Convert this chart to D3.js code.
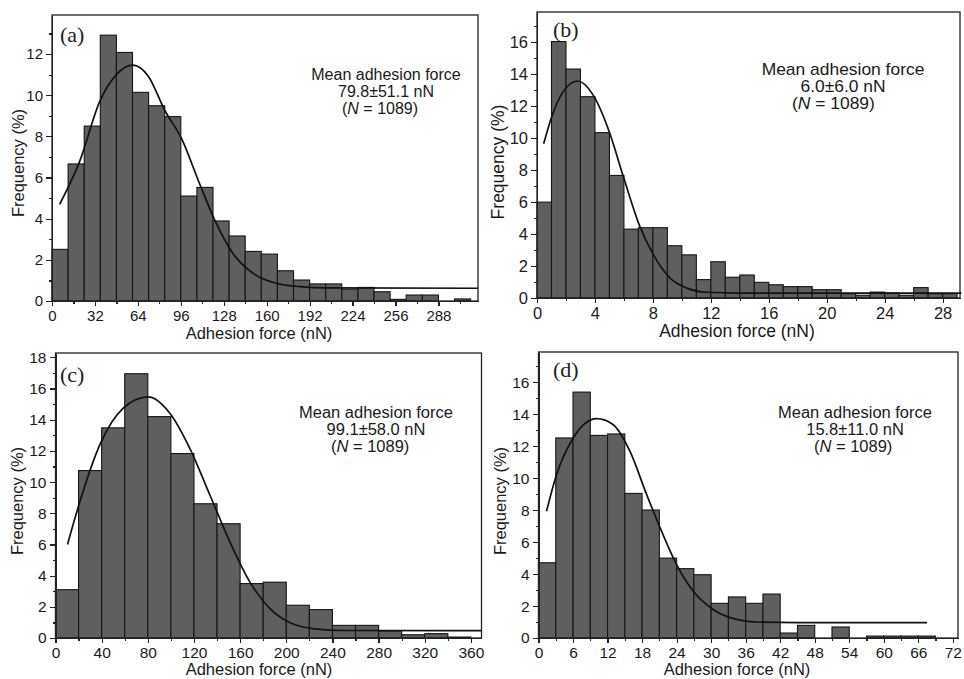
<!DOCTYPE html>
<html>
<head>
<meta charset="utf-8">
<script src="https://cdn.jsdelivr.net/npm/d3@7"></script>
<style>
  body { margin: 0; background: #fff; }
  svg { display: block; font-family: "Liberation Sans", Arial, sans-serif; }
  .axis path, .axis line { stroke: #222; stroke-width: 1.2; shape-rendering: crispEdges; }
  .axis text { fill: #1a1a1a; font-family: "Liberation Sans", Arial, sans-serif; }
</style>
</head>
<body>
<svg id="chart" width="964" height="679"></svg>
<script>
// bar heights (%), one value per bin starting at 0
var freqA = [2.51, 6.66, 8.5, 12.92, 12.08, 10.14, 9.49, 8.96, 5.1, 5.52, 3.89, 3.16, 2.41, 2.28, 1.47, 1.02, 0.83, 0.83, 0.58, 0.66, 0.45, 0.08, 0.29, 0.29, 0, 0.1];
var freqB = [6.0, 16.05, 14.33, 12.6, 10.35, 7.67, 4.31, 4.4, 4.4, 3.27, 2.7, 1.15, 2.27, 1.3, 1.44, 0.98, 0.83, 0.71, 0.71, 0.52, 0.52, 0.27, 0.17, 0.37, 0.31, 0.17, 0.65, 0.27, 0.27];
var freqC = [3.1, 10.74, 13.48, 16.95, 14.2, 11.83, 8.61, 7.33, 3.49, 3.58, 2.1, 1.82, 0.81, 0.81, 0.45, 0.21, 0.28, 0.06];
var freqD = [4.71, 12.52, 15.39, 12.68, 12.77, 9.05, 8.01, 5.0, 4.34, 3.96, 2.17, 2.57, 2.17, 2.75, 0.31, 0.79, 0, 0.69, 0, 0.12, 0.12, 0.12, 0.12];

var binWidthA = 12;
var binWidthB = 1;
var binWidthC = 20;
var binWidthD = 3;

// fitted curves, points [force, %]
var fitA = [[5.7, 4.7], [20.7, 6.8], [35.6, 9.7], [48, 11.0], [60.4, 11.46], [72, 10.9], [84, 9.27], [96.5, 7.9], [110, 5.7], [121.3, 3.93], [135, 2.3], [150, 1.34], [167, 0.86], [184.7, 0.7], [205, 0.64], [317.5, 0.62]];
var fitB = [[0.46, 9.65], [1.0, 11.3], [1.8, 12.9], [2.8, 13.58], [3.88, 12.7], [5.03, 10.3], [5.96, 7.6], [7.1, 4.48], [8.04, 2.7], [9.19, 1.25], [10.35, 0.62], [11.73, 0.36], [14, 0.31], [29.3, 0.31]];
var fitC = [[10.4, 6.0], [21.1, 8.74], [38.4, 12.39], [58.7, 14.74], [80.3, 15.47], [99.1, 14.42], [116.4, 12.17], [133.8, 9.17], [151.1, 6.17], [168.4, 3.6], [185.8, 1.89], [203, 0.99], [223, 0.6], [250, 0.48], [369.2, 0.47]];
var fitD = [[1.39, 7.93], [3.13, 10.22], [6.03, 12.52], [10.1, 13.73], [13.0, 13.35], [15.9, 11.68], [18.8, 8.97], [21.4, 6.67], [24.0, 4.59], [26.9, 2.92], [30.4, 1.77], [33.9, 1.21], [37.9, 1.0], [45, 0.96], [67.5, 0.96]];

// tick labels
var xTicksA = [0, 32, 64, 96, 128, 160, 192, 224, 256, 288];
var xTicksB = [0, 4, 8, 12, 16, 20, 24, 28];
var xTicksC = [0, 40, 80, 120, 160, 200, 240, 280, 320, 360];
var xTicksD = [0, 6, 12, 18, 24, 30, 36, 42, 48, 54, 60, 66, 72];
var yTicksA = [0, 2, 4, 6, 8, 10, 12];
var yTicksB = [0, 2, 4, 6, 8, 10, 12, 14, 16];
var yTicksC = [0, 2, 4, 6, 8, 10, 12, 14, 16, 18];
var yTicksD = [0, 2, 4, 6, 8, 10, 12, 14, 16];

var panelLabels = ['(a)', '(b)', '(c)', '(d)'];
var meanTexts = ['79.8\u00b151.1 nN', '6.0\u00b16.0 nN', '99.1\u00b158.0 nN', '15.8\u00b111.0 nN'];
var sampleSize = 1089;

var svg = d3.select('#chart');

// where each panel sits on the page (panel b was printed a little wider)
var panels = [
  { freq: freqA, bin: binWidthA, fit: fitA, xTicks: xTicksA, yTicks: yTicksA, xMinor: 16, xMax: 317.5, yMax: 13.9,
    left: 52, top: 15, right: 478, bottom: 301, tickFont: 15, titleFont: 16.5,
    labelX: 60, labelY: 42, annoX: 386, annoY: 80, nX: 342, annoSize: 16, stretch: 1, yTitleX: 18, yTitleY: 163, xTitleX: 259, xTitleY: 339 },
  { freq: freqB, bin: binWidthB, fit: fitB, xTicks: xTicksB, yTicks: yTicksB, xMinor: 2, xMax: 29.2, yMax: 17.9,
    left: 537, top: 12, right: 960, bottom: 298, tickFont: 16.5, titleFont: 17.5,
    labelX: 553, labelY: 37, annoX: 843, annoY: 75, nX: 792, annoSize: 16, stretch: 1.09, yTitleX: 498, yTitleY: 162, xTitleX: 737, xTitleY: 337 },
  { freq: freqC, bin: binWidthC, fit: fitC, xTicks: xTicksC, yTicks: yTicksC, xMinor: 20, xMax: 369.2, yMax: 18.28,
    left: 55.5, top: 353, right: 481.5, bottom: 638, tickFont: 15.5, titleFont: 16.5,
    labelX: 60, labelY: 382, annoX: 376, annoY: 418, nX: 331, annoSize: 16, stretch: 1.03, yTitleX: 17, yTitleY: 501, xTitleX: 259, xTitleY: 675 },
  { freq: freqD, bin: binWidthD, fit: fitD, xTicks: xTicksD, yTicks: yTicksD, xMinor: 3, xMax: 72.9, yMax: 17.9,
    left: 538.5, top: 352, right: 958, bottom: 638, tickFont: 15.5, titleFont: 16.5,
    labelX: 553, labelY: 377, annoX: 855, annoY: 418, nX: 814, annoSize: 16, stretch: 1.03, yTitleX: 500, yTitleY: 501, xTitleX: 737, xTitleY: 675 }
];

panels.forEach(function(p, i) {
  drawPanel(p, i);
});

function drawPanel(p, i) {
  var xScale = d3.scaleLinear().domain([0, p.xMax]).range([p.left, p.right]);
  var yScale = d3.scaleLinear().domain([0, p.yMax]).range([p.bottom, p.top]);
  var g = svg.append('g');

  var bins = p.freq.map(function(v, k) {
    return { x0: k * p.bin, x1: (k + 1) * p.bin, value: v };
  }).filter(function(d) {
    return d.value > 0;
  });

  g.selectAll('rect.bar')
    .data(bins)
    .enter().append('rect')
      .attr('class', 'bar')
      .attr('x', function(d) { return xScale(d.x0); })
      .attr('y', function(d) { return yScale(d.value); })
      .attr('width', function(d) { return xScale(d.x1) - xScale(d.x0); })
      .attr('height', function(d) { return yScale(0) - yScale(d.value); })
      .attr('fill', '#5f5f5f')
      .attr('stroke', '#151515')
      .attr('stroke-width', 1.1);

  // frame
  g.append('rect')
    .attr('x', p.left)
    .attr('y', p.top)
    .attr('width', p.right - p.left)
    .attr('height', p.bottom - p.top)
    .attr('fill', 'none')
    .attr('stroke', '#222')
    .attr('stroke-width', 1.3);

  var lastTick = p.xTicks[p.xTicks.length - 1];
  var xMinorTicks = d3.range(0, Math.min(p.xMax, lastTick + p.xMinor) + 0.001, p.xMinor);
  var yMinorTicks = d3.range(0, p.yMax, 1);

  g.append('g')
    .attr('class', 'axis')
    .attr('transform', 'translate(0,' + p.bottom + ')')
    .call(d3.axisBottom(xScale).tickValues(xMinorTicks).tickSize(3).tickFormat(''))
    .call(function(a) { a.select('.domain').remove(); });
  g.append('g')
    .attr('class', 'axis')
    .attr('transform', 'translate(0,' + p.bottom + ')')
    .call(d3.axisBottom(xScale).tickValues(p.xTicks).tickSize(5).tickPadding(4).tickSizeOuter(0))
    .selectAll('text').style('font-size', p.tickFont + 'px');

  g.append('g')
    .attr('class', 'axis')
    .attr('transform', 'translate(' + p.left + ',0)')
    .call(d3.axisLeft(yScale).tickValues(yMinorTicks).tickSize(3).tickFormat(''))
    .call(function(a) { a.select('.domain').remove(); });
  g.append('g')
    .attr('class', 'axis')
    .attr('transform', 'translate(' + p.left + ',0)')
    .call(d3.axisLeft(yScale).tickValues(p.yTicks).tickSize(6).tickPadding(3).tickSizeOuter(0))
    .selectAll('text').style('font-size', p.tickFont + 'px');

  // fitted curve
  var line = d3.line()
    .x(function(d) { return xScale(d[0]); })
    .y(function(d) { return yScale(d[1]); })
    .curve(d3.curveMonotoneX);
  g.append('path')
    .datum(p.fit)
    .attr('d', line)
    .attr('fill', 'none')
    .attr('stroke', '#111')
    .attr('stroke-width', 1.7);

  // panel letter
  g.append('text')
    .attr('x', p.labelX)
    .attr('y', p.labelY)
    .attr('font-family', '"Liberation Serif", "Times New Roman", serif')
    .attr('font-size', 22)
    .attr('fill', '#222')
    .text(panelLabels[i]);

  // annotation, drawn around (annoX, annoY) so it can be widened a little
  var anno = g.append('g')
    .attr('transform', 'translate(' + p.annoX + ',' + p.annoY + ') scale(' + p.stretch + ',1)')
    .attr('font-size', p.annoSize)
    .attr('fill', '#1a1a1a');
  anno.append('text')
    .attr('x', 0)
    .attr('y', 0)
    .attr('text-anchor', 'middle')
    .text('Mean adhesion force');
  anno.append('text')
    .attr('x', 0)
    .attr('y', 17)
    .attr('text-anchor', 'middle')
    .text(meanTexts[i]);
  var nText = anno.append('text')
    .attr('x', (p.nX - p.annoX) / p.stretch)
    .attr('y', 34);
  nText.append('tspan').text('(');
  nText.append('tspan').attr('font-style', 'italic').text('N');
  nText.append('tspan').text(' = ' + sampleSize + ')');

  // axis titles
  g.append('text')
    .attr('transform', 'translate(' + p.yTitleX + ',' + p.yTitleY + ') rotate(-90)')
    .attr('text-anchor', 'middle')
    .attr('dy', '0.35em')
    .attr('font-size', p.titleFont)
    .attr('fill', '#1a1a1a')
    .text('Frequency (%)');
  g.append('text')
    .attr('x', p.xTitleX)
    .attr('y', p.xTitleY)
    .attr('text-anchor', 'middle')
    .attr('font-size', p.titleFont)
    .attr('fill', '#1a1a1a')
    .text('Adhesion force (nN)');
}
</script>
</body>
</html>
